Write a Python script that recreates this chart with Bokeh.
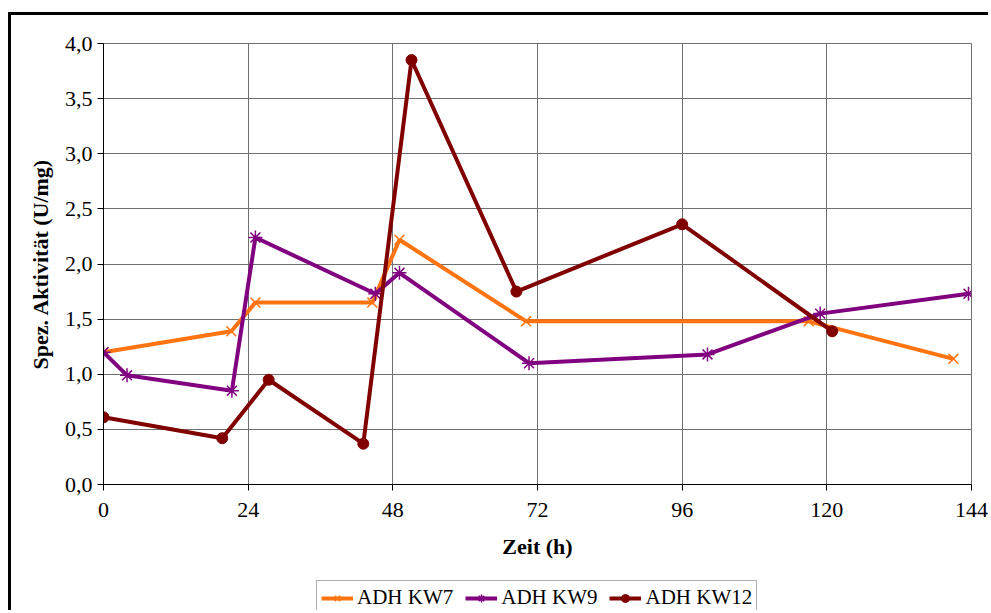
from bokeh.plotting import figure
from bokeh.layouts import column
from bokeh.models import (Range1d, FixedTicker, CustomJSTickFormatter, Legend, LegendItem)
from bokeh.embed import file_html
from bokeh.resources import INLINE

# Data
kw7_x = [0, 21.2, 25.2, 44.6, 49.1, 70.1, 117.0, 141.0]
kw7_y = [1.20, 1.39, 1.65, 1.65, 2.22, 1.48, 1.48, 1.14]
kw9_x = [0, 3.9, 21.3, 25.2, 45.1, 49.1, 70.6, 100.2, 118.9, 143.5]
kw9_y = [1.20, 0.99, 0.85, 2.24, 1.73, 1.92, 1.10, 1.18, 1.55, 1.73]
kw12_x = [0, 19.7, 27.4, 43.1, 51.1, 68.5, 96.0, 120.9]
kw12_y = [0.61, 0.42, 0.95, 0.37, 3.85, 1.75, 2.36, 1.39]

x_ticks = [0, 24, 48, 72, 96, 120, 144]
y_ticks = [0.0, 0.5, 1.0, 1.5, 2.0, 2.5, 3.0, 3.5, 4.0]
series_names = ["ADH KW7", "ADH KW9", "ADH KW12"]
x_title = "Zeit (h)"
y_title = "Spez. Aktivität (U/mg)"

FONT = "Liberation Serif"
c7, c9, c12 = "#FF7410", "#800080", "#800000"
LW = 4

series = [
    (kw7_x, kw7_y, c7, "x", 14),
    (kw9_x, kw9_y, c9, "asterisk", 14),
    (kw12_x, kw12_y, c12, "circle", 11),
]

# ---- main chart ----
p = figure(width=980, height=560, output_backend="svg", toolbar_location=None,
           x_range=Range1d(0, 144), y_range=Range1d(0, 4),
           min_border_left=92, min_border_top=28, min_border_right=20,
           min_border_bottom=91)
p.styles = {"border-top": "3px solid black", "border-left": "3px solid black",
            "margin-top": "12px", "margin-left": "8px"}

p.background_fill_color = "white"
p.border_fill_color = "white"
p.outline_line_color = "#707070"
p.outline_line_width = 1

p.xaxis.ticker = FixedTicker(ticks=x_ticks)
p.yaxis.ticker = FixedTicker(ticks=y_ticks)
p.yaxis.formatter = CustomJSTickFormatter(code="return tick.toFixed(1).replace('.', ',');")

for ax in (p.xaxis, p.yaxis):
    ax.axis_line_color = "black"
    ax.axis_line_width = 1
    ax.major_tick_line_color = "black"
    ax.major_tick_out = 6
    ax.major_tick_in = 0
    ax.minor_tick_line_color = None
    ax.major_label_text_font = FONT
    ax.major_label_text_font_size = "22px"
    ax.major_label_text_color = "black"
    ax.axis_label_text_font = FONT
    ax.axis_label_text_font_size = "22px"
    ax.axis_label_text_font_style = "bold"
    ax.axis_label_text_color = "black"

p.xaxis.axis_label = x_title
p.yaxis.axis_label = y_title
p.xaxis.major_label_standoff = 12
p.xaxis.axis_label_standoff = 14
p.yaxis.major_label_standoff = 5
p.yaxis.axis_label_standoff = 9

p.xgrid.ticker = FixedTicker(ticks=x_ticks)
p.ygrid.ticker = FixedTicker(ticks=y_ticks)
p.grid.grid_line_color = "#707070"
p.grid.grid_line_width = 1

for xs, ys, col, mk, sz in series:
    p.line(xs, ys, line_color=col, line_width=LW)
    if mk == "circle":
        p.scatter(xs, ys, marker=mk, size=sz, line_color=col, fill_color=col)
    else:
        p.scatter(xs, ys, marker=mk, size=sz, line_color=col, line_width=1.5)

# ---- legend strip (part of the same chart area) ----
# same series drawn here only to provide legend glyphs; the ranges keep them out of view
q = figure(width=980, height=38, output_backend="svg", toolbar_location=None,
           x_range=Range1d(1000, 1001), y_range=Range1d(1000, 1001),
           x_axis_location=None, y_axis_location=None,
           min_border=0, min_border_left=0, min_border_right=0,
           min_border_top=0, min_border_bottom=0)
q.styles = {"border-left": "3px solid black", "margin-left": "8px"}
q.grid.visible = False
q.outline_line_color = None
q.background_fill_color = "white"
q.border_fill_color = "white"

items = []
for (xs, ys, col, mk, sz), name in zip(series, series_names):
    ln = q.line(xs, ys, line_color=col, line_width=LW)
    if mk == "circle":
        sc = q.scatter(xs, ys, marker=mk, size=sz, line_color=col, fill_color=col)
    else:
        sc = q.scatter(xs, ys, marker=mk, size=sz, line_color=col, line_width=1.5)
    items.append(LegendItem(label=name, renderers=[ln, sc]))

legend = Legend(items=items, orientation="horizontal", location=(213, -5))
legend.label_text_font = FONT
legend.label_text_font_size = "21px"
legend.label_text_color = "black"
legend.border_line_color = "#606060"
legend.border_line_width = 1
legend.glyph_width = 32
legend.glyph_height = 20
legend.label_standoff = 4
legend.spacing = 12
legend.padding = 4
legend.margin = 0
legend.background_fill_alpha = 1
q.add_layout(legend)

layout = column(p, q, spacing=0)
open("out.html", "w").write(file_html(layout, INLINE))
